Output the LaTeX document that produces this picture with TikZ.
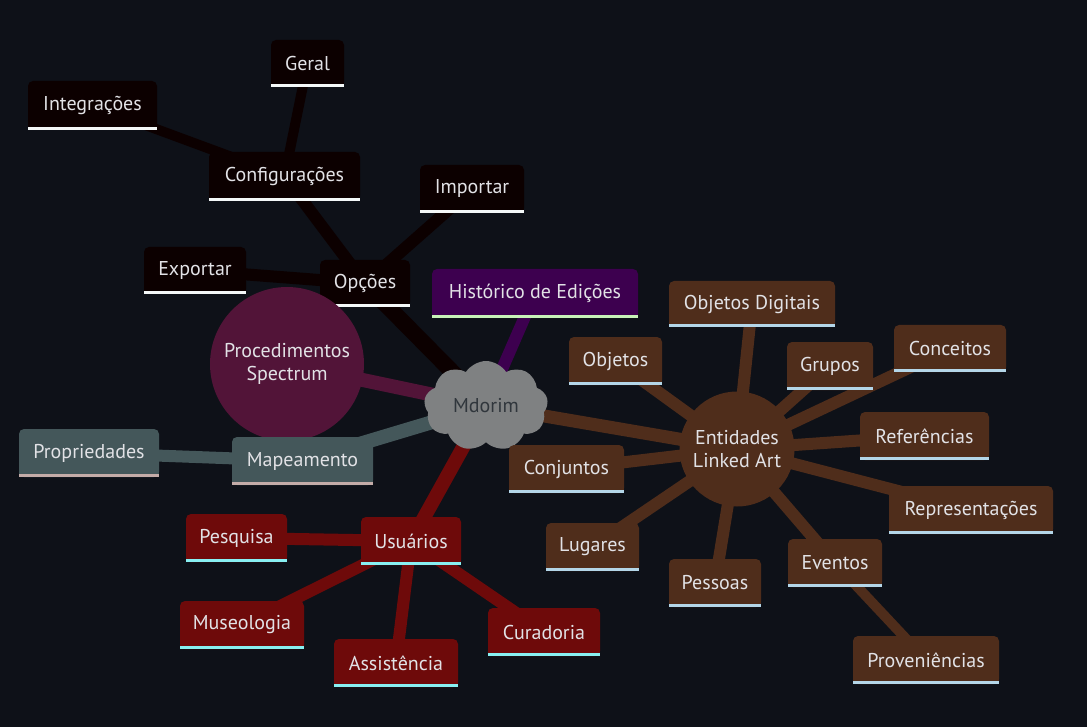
\documentclass[tikz,border=0pt]{standalone}
\usepackage{fontspec}
\setmainfont{PT Sans}
\usetikzlibrary{shapes.symbols}
\pgfdeclarelayer{bglayer}
\pgfdeclarelayer{edges}
\pgfsetlayers{bglayer,edges,main}
\definecolor{bg}{HTML}{0E1118}
\definecolor{txt}{HTML}{E2E2E6}
\definecolor{blkF}{HTML}{0C0000}
\definecolor{blkU}{HTML}{F4F8F8}
\definecolor{purF}{HTML}{3D004F}
\definecolor{purU}{HTML}{C8F2B8}
\definecolor{proF}{HTML}{521438}
\definecolor{gryF}{HTML}{44575A}
\definecolor{gryU}{HTML}{C4ACA8}
\definecolor{cldF}{HTML}{7F8182}
\definecolor{cldT}{HTML}{30363C}
\definecolor{brnF}{HTML}{4F2D1B}
\definecolor{brnU}{HTML}{B4D6E8}
\definecolor{redF}{HTML}{6E0A0A}
\definecolor{redU}{HTML}{88F0F2}
\tikzset{
  tb/.style={rectangle, rounded corners=5pt, inner sep=0pt, text=txt,
    font=\fontsize{20}{23}\selectfont},
  lnk/.style={line width=#1, line cap=butt},
}
\newcommand{\tbox}[7]{%
  \node[tb, fill=#2F, minimum width={(#5-#3)*1pt}, minimum height={(#6-#4)*1pt}]
    (#1) at ({(#3+#5)/2},{(#4+#6)/2}) {#7};
  \fill[#2F] (#1.south west) rectangle ([yshift=8pt]#1.south east);
  \fill[#2U] (#1.south west) rectangle ([yshift=3.5pt]#1.south east);
}
\begin{document}
\begin{tikzpicture}[x=1pt,y=-1pt]
\begin{pgfonlayer}{bglayer}
  \fill[bg] (0,0) rectangle (1087,727);
\end{pgfonlayer}
\useasboundingbox (0,0) rectangle (1087,727);

% centre
\node[cloud, cloud puffs=9, cloud puff arc=115, aspect=1.4, fill=cldF,
  minimum width=124pt, minimum height=90pt, inner sep=0pt, text=cldT,
  font=\fontsize{20}{23}\selectfont] (mdorim) at (486,406) {Mdorim};

% black branch
\tbox{geral}{blk}{271}{40}{344}{87}{Geral}
\tbox{integr}{blk}{28}{81}{157}{130}{Integrações}
\tbox{config}{blk}{209}{152}{360}{201}{Configurações}
\tbox{importar}{blk}{420}{165}{524}{213}{Importar}
\tbox{exportar}{blk}{144}{247}{246}{294}{Exportar}
\tbox{opcoes}{blk}{320}{260}{410}{307}{Opções}

% purple
\tbox{hist}{pur}{432}{269}{638}{318}{Histórico de Edições}

% procedimentos
\node[circle, fill=proF, minimum size=154pt, inner sep=0pt, text=txt, align=center,
  font=\fontsize{20}{23}\selectfont] (proc) at (287,364) {Procedimentos\\Spectrum};

% gray
\tbox{mapea}{gry}{232}{437}{373}{485}{Mapeamento}
\tbox{propr}{gry}{19}{429}{159}{477}{Propriedades}

% brown
\node[circle, fill=brnF, minimum size=115pt, inner sep=0pt, text=txt, align=center,
  font=\fontsize{20}{23}\selectfont] (entid) at (737,449) {Entidades\\Linked Art};
\tbox{objdig}{brn}{669}{281}{835}{327}{Objetos Digitais}
\tbox{objetos}{brn}{569}{337}{662}{385}{Objetos}
\tbox{grupos}{brn}{787}{342}{873}{390}{Grupos}
\tbox{conceitos}{brn}{894}{325}{1006}{372}{Conceitos}
\tbox{refer}{brn}{860}{412}{989}{460}{Referências}
\tbox{repres}{brn}{889}{486}{1053}{534}{Representações}
\tbox{eventos}{brn}{788}{539}{882}{587}{Eventos}
\tbox{proven}{brn}{853}{636}{999}{684}{Proveniências}
\tbox{conjuntos}{brn}{509}{445}{624}{493}{Conjuntos}
\tbox{lugares}{brn}{546}{523}{639}{571}{Lugares}
\tbox{pessoas}{brn}{669}{559}{761}{607}{Pessoas}

% red
\tbox{usuarios}{red}{361}{517}{461}{565}{Usuários}
\tbox{pesquisa}{red}{186}{514}{287}{562}{Pesquisa}
\tbox{museol}{red}{180}{601}{304}{649}{Museologia}
\tbox{assist}{red}{334}{639}{458}{687}{Assistência}
\tbox{curad}{red}{488}{608}{600}{656}{Curadoria}

\begin{pgfonlayer}{edges}
  \draw[blkF, lnk=16pt] (mdorim.center) -- (opcoes.center);
  \draw[blkF, lnk=12pt] (opcoes.center) -- (config.center);
  \draw[blkF, lnk=12pt] (opcoes.center) -- (exportar.center);
  \draw[blkF, lnk=12pt] (opcoes.center) -- (importar.center);
  \draw[blkF, lnk=10pt] (config.center) -- (geral.center);
  \draw[blkF, lnk=10pt] (config.center) -- (integr.center);
  \draw[purF, lnk=12pt] (mdorim.center) -- (hist.center);
  \draw[proF, lnk=14pt] (mdorim.center) -- (proc.center);
  \draw[gryF, lnk=14pt] (mdorim.center) -- (mapea.center);
  \draw[gryF, lnk=12pt] (mapea.center) -- (propr.center);
  \draw[redF, lnk=14pt] (mdorim.center) -- (usuarios.center);
  \foreach \n in {pesquisa,museol,assist,curad}
    \draw[redF, lnk=12pt] (usuarios.center) -- (\n.center);
  \draw[brnF, lnk=13pt] (mdorim.center) -- (entid.center);
  \foreach \n in {objdig,objetos,grupos,conceitos,refer,repres,eventos,conjuntos,lugares,pessoas}
    \draw[brnF, lnk=12pt] (entid.center) -- (\n.center);
  \draw[brnF, lnk=10pt] (eventos.center) -- (proven.center);
\end{pgfonlayer}
\end{tikzpicture}
\end{document}
